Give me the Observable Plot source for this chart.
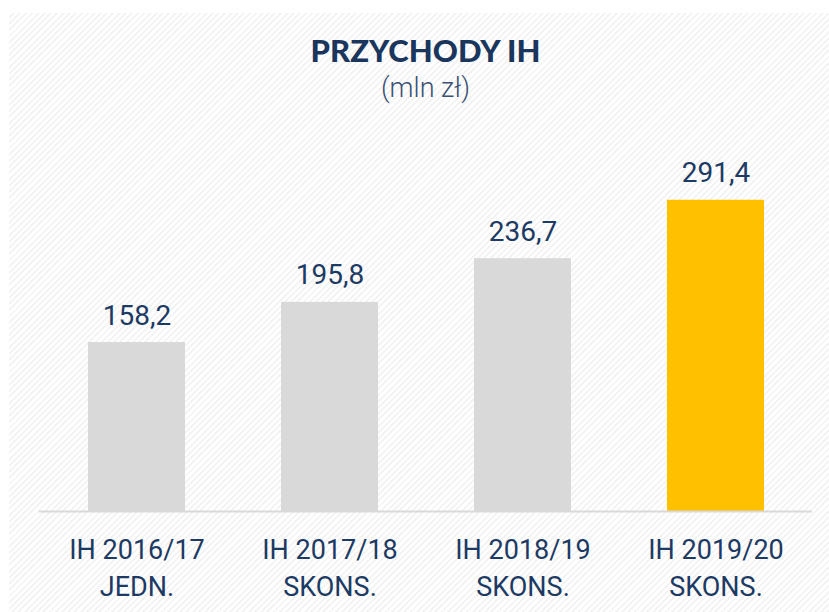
<!DOCTYPE html>
<html>
<head>
<meta charset="utf-8">
<script src="https://cdn.jsdelivr.net/npm/d3@7"></script>
<script src="https://cdn.jsdelivr.net/npm/@observablehq/plot@0.6"></script>
<style>
  html, body { margin: 0; padding: 0; background: #fff; }
  #wrap { position: relative; width: 829px; height: 612px; overflow: hidden; }
  #bg { position: absolute; left: 9px; top: 13px; right: 0; bottom: 0;
        background: repeating-linear-gradient(135deg, #ffffff 0px, #ffffff 2.4px, #f4f4f4 2.4px, #f4f4f4 4.4px); }
  #title { position: absolute; left: 0; width: 851px; top: 34px; text-align: center;
           font-family: Lato, sans-serif; font-weight: 900; font-size: 31px; line-height: 32px;
           color: #1b365d; letter-spacing: 0.1px; }
  #subtitle { position: absolute; left: 0; width: 851px; top: 73px; text-align: center;
              font-family: Roboto, sans-serif; font-weight: 300; font-size: 27px; line-height: 30px;
              color: #3b5275; }
  #chart { position: absolute; left: 0; top: 110px; }
</style>
</head>
<body>
<div id="wrap">
  <div id="bg"></div>
  <div id="title">PRZYCHODY IH</div>
  <div id="subtitle">(mln zł)</div>
  <div id="chart"></div>
</div>
<script>
const categories = ["IH 2016/17\nJEDN.", "IH 2017/18\nSKONS.", "IH 2018/19\nSKONS.", "IH 2019/20\nSKONS."];
const values = [158.2, 195.8, 236.7, 291.4];
const labels = ["158,2", "195,8", "236,7", "291,4"];
const highlight = [false, false, false, true];

const data = categories.map((c, i) => ({cat: c, value: values[i], label: labels[i], hl: highlight[i]}));
const navy = "#1c3a63";

const chart = Plot.plot({
  width: 829,
  height: 502,
  marginLeft: 39,
  marginRight: 17,
  marginTop: 80.6,
  marginBottom: 101,
  style: {background: "transparent", overflow: "visible"},
  x: {domain: categories, paddingInner: 0.5, paddingOuter: 0.25, label: null},
  y: {domain: [0, 300], axis: null},
  marks: [
    Plot.barY(data, {x: "cat", y: "value", fill: d => d.hl ? "#ffc000" : "#d9d9d9"}),
    Plot.ruleY([0], {stroke: "#d9d9d9", strokeWidth: 2}),
    Plot.text(data, {x: "cat", y: "value", text: "label", dy: -18, lineAnchor: "bottom",
      fontSize: 28, fill: navy, fontFamily: "Roboto"}),
    Plot.axisX({tickSize: 0, tickPadding: 21, fontSize: 27, lineHeight: 1.37, fill: navy,
      fontFamily: "Roboto", label: null})
  ]
});
document.getElementById("chart").appendChild(chart);
</script>
</body>
</html>
